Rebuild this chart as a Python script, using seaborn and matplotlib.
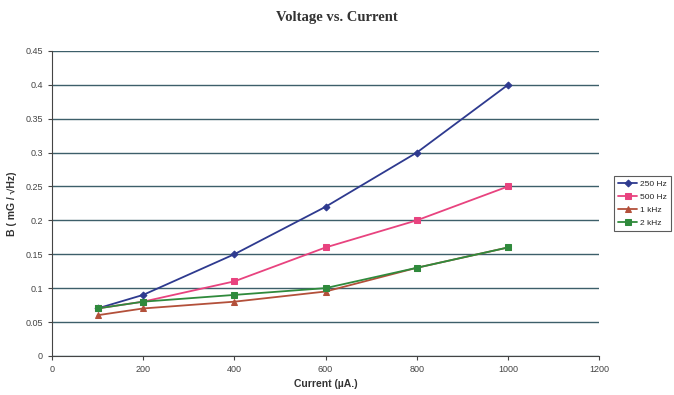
import matplotlib
matplotlib.use("Agg")
import matplotlib.pyplot as plt
import seaborn as sns
import pandas as pd

current = [100, 200, 400, 600, 800, 1000]
b_250hz = [0.07, 0.09, 0.15, 0.22, 0.30, 0.40]
b_500hz = [0.07, 0.08, 0.11, 0.16, 0.20, 0.25]
b_1khz = [0.06, 0.07, 0.08, 0.095, 0.13, 0.16]
b_2khz = [0.07, 0.08, 0.09, 0.10, 0.13, 0.16]
series_names = ["250 Hz", "500 Hz", "1 kHz", "2 kHz"]
x_ticks = [0, 200, 400, 600, 800, 1000, 1200]
y_ticks = [0, 0.05, 0.1, 0.15, 0.2, 0.25, 0.3, 0.35, 0.4, 0.45]

rows = []
for name, vals in zip(series_names, [b_250hz, b_500hz, b_1khz, b_2khz]):
    for c, v in zip(current, vals):
        rows.append({"Current": c, "B": v, "Series": name})
df = pd.DataFrame(rows)

sns.set_style("white")
plt.rcParams['font.family'] = ['Liberation Sans', 'DejaVu Sans']

fig = plt.figure(figsize=(6.74, 3.95), dpi=100)
ax = fig.add_axes([0.077, 0.099, 0.812, 0.772])

colors = {"250 Hz": "#2e3a8f", "500 Hz": "#e8437f", "1 kHz": "#b3503a", "2 kHz": "#2f8a3c"}
markers = {"250 Hz": "D", "500 Hz": "s", "1 kHz": "^", "2 kHz": "s"}
sizes = {"250 Hz": 3.5, "500 Hz": 4.5, "1 kHz": 4.5, "2 kHz": 4.5}

for name in series_names:
    sub = df[df["Series"] == name]
    sns.lineplot(data=sub, x="Current", y="B", ax=ax, color=colors[name],
                 marker=markers[name], markersize=sizes[name], linewidth=1.3,
                 label=name, markeredgecolor=colors[name])

ax.set_xlim(0, 1200)
ax.set_ylim(0, 0.45)
ax.set_xticks(x_ticks)
ax.set_xticklabels([str(t) for t in x_ticks])
ax.set_yticks(y_ticks)
ax.set_yticklabels(["0", "0.05", "0.1", "0.15", "0.2", "0.25", "0.3", "0.35", "0.4", "0.45"])
ax.tick_params(axis="both", labelsize=6.5, colors="#444444", length=3, direction="out")
ax.tick_params(axis="both", bottom=True, left=True)
ax.yaxis.grid(True, color="#3d5f6a", linewidth=1.0)
ax.set_axisbelow(True)
for s in ["top", "right"]:
    ax.spines[s].set_visible(False)
ax.spines["left"].set_color("#444444")
ax.spines["bottom"].set_color("#444444")

ax.set_xlabel("Current (\u00b5A.)", fontsize=7.5, fontweight="bold", color="#333333", labelpad=4)
ax.set_ylabel("B ( mG / \u221aHz)", fontsize=7.5, fontweight="bold", color="#333333", labelpad=6)

fig.text(0.5, 0.955, "Voltage vs. Current", ha="center", va="center",
         fontsize=10.5, fontweight="bold", family="Liberation Serif", color="#333333")

leg = ax.legend(loc="center left", bbox_to_anchor=(1.02, 0.5), fontsize=6,
                frameon=True, fancybox=False, edgecolor="#333333",
                handlelength=2.2, borderpad=0.5, labelspacing=0.6, handletextpad=0.4)
leg.get_frame().set_linewidth(0.8)

fig.savefig("out.png", dpi=100)
